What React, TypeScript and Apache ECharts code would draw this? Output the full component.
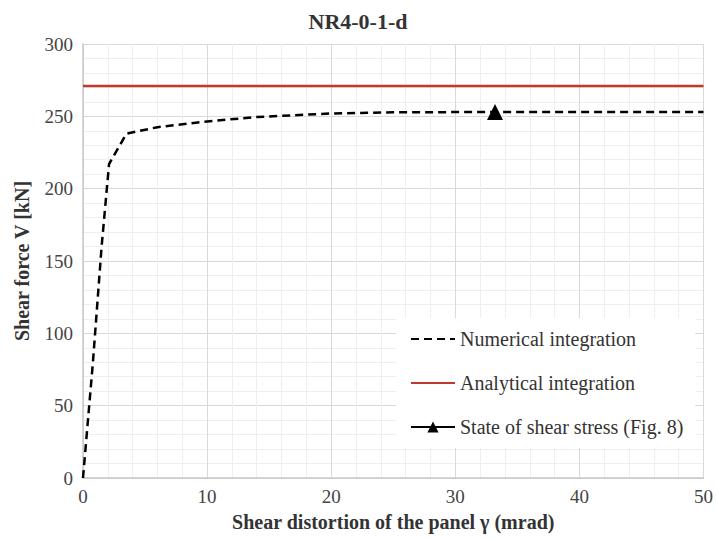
import React, { useEffect, useRef } from "react";
import * as echarts from "echarts";

const titleText = "NR4-0-1-d";
const xName = "Shear distortion of the panel γ (mrad)";
const yName = "Shear force V [kN]";

const numGamma = [0, 0.8, 1.5, 2.1, 3.5, 6, 10, 14, 20, 25, 33.2, 50];
const numV = [0, 80, 160, 217, 238, 242.5, 246.5, 249.5, 252, 252.8, 253, 253];
const analyticalGamma = [0, 50];
const analyticalV = [271, 271];
const stateGamma = [33.2];
const stateV = [253];

const serif = "Liberation Serif";

export default function App() {
  const ref = useRef<HTMLDivElement>(null);
  useEffect(() => {
    if (!ref.current) return;
    const chart = echarts.init(ref.current, undefined, { renderer: "svg" });
    const zip = (xs: number[], ys: number[]) => xs.map((x, i) => [x, ys[i]]);
    chart.setOption({
      animation: false,
      backgroundColor: "#fff",
      title: {
        text: titleText,
        left: "center",
        top: 5,
        textStyle: { fontFamily: serif, fontSize: 22, fontWeight: "bold", color: "#333" },
      },
      grid: { left: 83, right: 11, top: 44, bottom: 62 },
      xAxis: {
        type: "value",
        min: 0,
        max: 50,
        interval: 10,
        name: xName,
        nameLocation: "middle",
        nameGap: 34,
        nameTextStyle: { fontFamily: serif, fontSize: 20, fontWeight: "bold", color: "#333" },
        axisLine: { show: true, lineStyle: { color: "#c8c8c8", width: 1.5 } },
        axisTick: { show: false },
        axisLabel: { fontFamily: serif, fontSize: 19, color: "#444", margin: 9 },
        splitLine: { show: true, lineStyle: { color: "#d9d9d9", width: 1 } },
        minorTick: { show: false, splitNumber: 5 },
        minorSplitLine: { show: true, lineStyle: { color: "#efefef", width: 1 } },
      },
      yAxis: {
        type: "value",
        min: 0,
        max: 300,
        interval: 50,
        name: yName,
        nameLocation: "middle",
        nameGap: 51,
        nameTextStyle: { fontFamily: serif, fontSize: 20, fontWeight: "bold", color: "#333" },
        axisLine: { show: true, lineStyle: { color: "#c8c8c8", width: 1.5 } },
        axisTick: { show: false },
        axisLabel: { fontFamily: serif, fontSize: 19, color: "#444", margin: 10 },
        splitLine: { show: true, lineStyle: { color: "#d9d9d9", width: 1 } },
        minorTick: { show: false, splitNumber: 5 },
        minorSplitLine: { show: true, lineStyle: { color: "#efefef", width: 1 } },
      },
      legend: {
        orient: "vertical",
        left: 396,
        top: 318,
        padding: [11, 12, 11, 14],
        backgroundColor: "#fff",
        itemGap: 24,
        itemWidth: 44,
        itemHeight: 14,
        textStyle: { fontFamily: serif, fontSize: 20, color: "#333" },
        data: [
          { name: "Numerical integration", itemStyle: { opacity: 0 } },
          { name: "Analytical integration", itemStyle: { opacity: 0 } },
          { name: "State of shear stress (Fig. 8)" },
        ],
      },
      series: [
        {
          name: "Numerical integration",
          type: "line",
          data: zip(numGamma, numV),
          symbol: "none",
          lineStyle: { color: "#000", width: 2.5, type: [8, 5] },
          itemStyle: { color: "#000" },
          z: 3,
        },
        {
          name: "Analytical integration",
          type: "line",
          data: zip(analyticalGamma, analyticalV),
          symbol: "none",
          lineStyle: { color: "#c0392b", width: 2.5 },
          itemStyle: { color: "#c0392b" },
          z: 2,
        },
        {
          name: "State of shear stress (Fig. 8)",
          type: "line",
          data: zip(stateGamma, stateV),
          symbol: "triangle",
          symbolSize: 16,
          showSymbol: true,
          lineStyle: { color: "#000", width: 2.5 },
          itemStyle: { color: "#000" },
          z: 4,
        },
      ],
    });
    return () => chart.dispose();
  }, []);
  return (
    <div
      ref={ref}
      style={{ position: "absolute", left: 0, top: 0, width: 716, height: 540 }}
    />
  );
}
